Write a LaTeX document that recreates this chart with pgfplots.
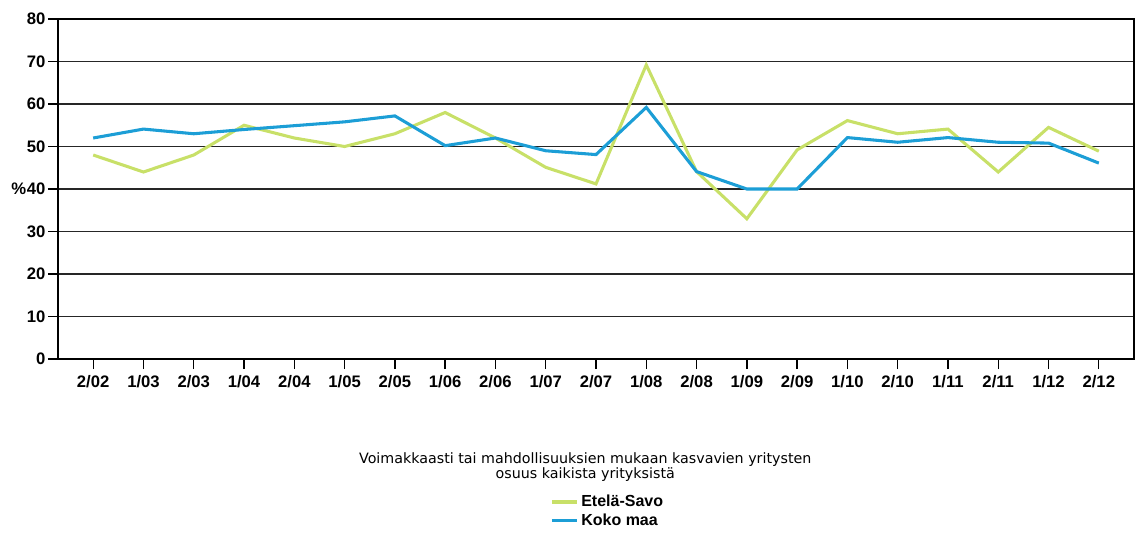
\documentclass[border=0pt]{standalone}
\usepackage{pgfplots}
\pgfplotsset{compat=1.18}
\usepackage{fontspec}
\setmainfont{Liberation Sans}
\newfontfamily\titlefont{DejaVu Sans}
\definecolor{esavo}{RGB}{200,224,104}
\definecolor{koko}{RGB}{28,158,214}
\begin{document}
\begin{tikzpicture}[x=1pt,y=1pt]
\useasboundingbox (0,0) rectangle (851.25,399.75);
\begin{axis}[
  at={(43.5pt,130.5pt)}, anchor=south west,
  scale only axis, width=807pt, height=255pt,
  xmin=-0.7, xmax=20.7, ymin=0, ymax=80,
  xtick={0,...,20},
  xticklabels={2/02,1/03,2/03,1/04,2/04,1/05,2/05,1/06,2/06,1/07,2/07,1/08,2/08,1/09,2/09,1/10,2/10,1/11,2/11,1/12,2/12},
  ytick={0,10,...,80},
  xtick pos=bottom, ytick pos=left,
  tick align=outside, major tick length=7.5pt,
  tick style={black, line width=1pt},
  ymajorgrids, grid style={black!85, line width=1pt},
  axis line style={black, line width=1pt},
  tick label style={font=\bfseries\fontsize{12.5}{14}\selectfont},
  /pgf/number format/assume math mode=true,
  xticklabel style={yshift=-1pt},
  yticklabel style={xshift=1.5pt},
  legend cell align=left,
  legend style={draw=none, fill=none, at={(0.456,-0.388)}, anchor=north west,
    font=\bfseries\fontsize{12}{14}\selectfont, row sep=0pt, inner sep=1pt},
  legend image code/.code={\draw[#1] (0pt,0pt) -- (19pt,0pt);},
  clip=false,
]
\addplot[esavo, line width=2.3pt] coordinates {
(0,48) (1,44) (2,48) (3,55) (4,52) (5,50) (6,53) (7,58) (8,52) (9,45.1) (10,41.2)
(11,69.2) (12,44.1) (13,33) (14,49.2) (15,56.1) (16,53) (17,54.1) (18,44) (19,54.5) (20,48.9)};
\addlegendentry{Etelä-Savo}
\addplot[koko, line width=2.3pt] coordinates {
(0,52) (1,54.1) (2,53) (3,54) (4,54.9) (5,55.8) (6,57.2) (7,50.2) (8,52) (9,49) (10,48.1)
(11,59.2) (12,44.1) (13,40) (14,40) (15,52.1) (16,51) (17,52.1) (18,51) (19,50.8) (20,46.1)};
\addlegendentry{Koko maa}
\node[font=\bfseries\fontsize{12.5}{14}\selectfont] at (axis description cs:-0.0365,0.5) {\%};
\node[align=center, font=\titlefont\fontsize{10.7}{10.8}\selectfont] at (axis description cs:0.49,-0.318)
  {Voimakkaasti tai mahdollisuuksien mukaan kasvavien yritysten\\osuus kaikista yrityksistä};
\end{axis}
\end{tikzpicture}
\end{document}
